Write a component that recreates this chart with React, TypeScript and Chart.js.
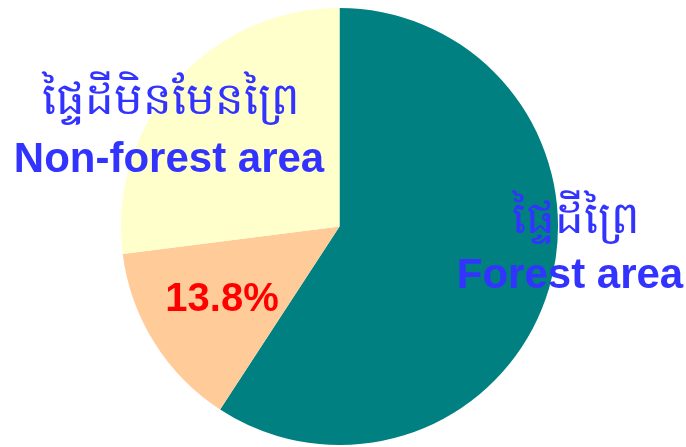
import React, { useEffect, useRef } from "react";
import { Chart, registerables } from "chart.js";

Chart.register(...registerables);

const categories = ["Forest area", "Overlap", "Non-forest area"];
const khmerLabels = ["ផ្ទៃដីព្រៃ", "", "ផ្ទៃដីមិនមែនព្រៃ"];
const values = [59.2, 13.8, 27.0];
const colors = ["#008080", "#FFCC99", "#FFFFCC"];
const percentLabel = "13.8%";

const labelPlugin = {
  id: "labelPlugin",
  afterDraw(chart: any) {
    const ctx = chart.ctx;
    ctx.save();
    ctx.textAlign = "center";
    ctx.textBaseline = "alphabetic";
    // Non-forest
    ctx.fillStyle = "#3333FF";
    ctx.font = "45px 'Noto Sans', 'DejaVu Sans', sans-serif";
    ctx.fillText(khmerLabels[2], 171, 114);
    ctx.font = "bold 42px 'Liberation Sans', Arial, sans-serif";
    ctx.fillText(categories[2], 169, 172);
    // Forest
    ctx.font = "45px 'Noto Sans', 'DejaVu Sans', sans-serif";
    ctx.fillText(khmerLabels[0], 576, 233);
    ctx.font = "bold 42px 'Liberation Sans', Arial, sans-serif";
    ctx.fillText(categories[0], 570, 288);
    // percent
    ctx.fillStyle = "#FF0000";
    ctx.font = "bold 40px 'Liberation Sans', Arial, sans-serif";
    ctx.fillText(percentLabel, 222, 311);
    ctx.restore();
  },
};

export default function App() {
  const ref = useRef<HTMLCanvasElement>(null);
  useEffect(() => {
    if (!ref.current) return;
    const chart = new Chart(ref.current, {
      type: "pie",
      data: {
        labels: categories,
        datasets: [
          {
            data: values,
            backgroundColor: colors,
            borderWidth: 0,
          },
        ],
      },
      options: {
        animation: false,
        responsive: false,
        layout: { padding: { top: 8, bottom: 2, left: 0, right: 7 } },
        plugins: {
          legend: { display: false },
          tooltip: { enabled: false },
        },
      },
      plugins: [labelPlugin],
    });
    return () => chart.destroy();
  }, []);
  return (
    <div style={{ position: "fixed", left: 0, top: 0, width: 686, height: 447, background: "#fff" }}>
      <canvas ref={ref} width={686} height={447} style={{ width: 686, height: 447 }} />
    </div>
  );
}
